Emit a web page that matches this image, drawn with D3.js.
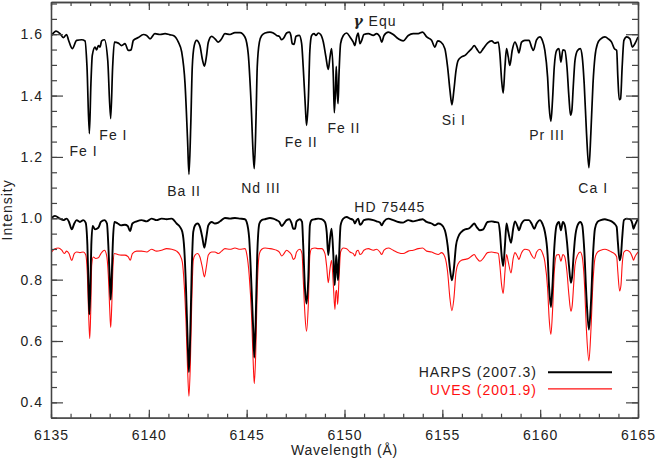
<!DOCTYPE html>
<html><head><meta charset="utf-8">
<script src="https://cdn.jsdelivr.net/npm/d3@7/dist/d3.min.js"></script>
<style>
html,body{margin:0;padding:0;background:#fff;}
text{font-family:"Liberation Sans",Arial,Helvetica,sans-serif;fill:#222;}
</style></head>
<body>
<svg id="chart" width="656" height="461"></svg>
<script>
// ---- data (wavelength Å, intensity) ----
const gammaEqu = [[6135.03,1.596],[6135.26,1.610],[6135.46,1.602],[6135.63,1.589],[6135.80,1.599],[6135.89,1.582],[6136.09,1.553],[6136.31,1.580],[6136.57,1.582],[6136.74,1.578],[6136.84,1.493],[6136.96,1.276],[6137.04,1.439],[6137.11,1.531],[6137.25,1.558],[6137.33,1.549],[6137.42,1.563],[6137.50,1.558],[6137.59,1.578],[6137.73,1.582],[6137.90,1.515],[6138.05,1.325],[6138.15,1.493],[6138.24,1.574],[6138.44,1.571],[6138.61,1.563],[6138.78,1.569],[6138.95,1.547],[6139.09,1.549],[6139.21,1.580],[6139.46,1.589],[6139.72,1.599],[6139.89,1.596],[6140.06,1.585],[6140.31,1.602],[6140.57,1.599],[6140.83,1.602],[6141.08,1.598],[6141.25,1.596],[6141.51,1.574],[6141.68,1.542],[6141.85,1.439],[6141.98,1.254],[6142.05,1.143],[6142.14,1.298],[6142.22,1.493],[6142.32,1.563],[6142.44,1.580],[6142.61,1.563],[6142.73,1.520],[6142.84,1.496],[6142.94,1.526],[6143.04,1.574],[6143.21,1.593],[6143.38,1.585],[6143.55,1.574],[6143.72,1.585],[6143.89,1.602],[6144.15,1.599],[6144.40,1.605],[6144.66,1.605],[6144.91,1.591],[6145.08,1.536],[6145.22,1.384],[6145.34,1.200],[6145.39,1.162],[6145.48,1.330],[6145.54,1.493],[6145.65,1.574],[6145.77,1.596],[6145.94,1.604],[6146.19,1.607],[6146.36,1.604],[6146.53,1.596],[6146.67,1.593],[6146.79,1.582],[6146.91,1.589],[6147.04,1.604],[6147.18,1.607],[6147.26,1.596],[6147.33,1.569],[6147.42,1.567],[6147.52,1.593],[6147.69,1.596],[6147.81,1.569],[6147.89,1.493],[6148.00,1.363],[6148.06,1.303],[6148.15,1.384],[6148.23,1.547],[6148.32,1.596],[6148.44,1.602],[6148.54,1.596],[6148.66,1.604],[6148.78,1.599],[6148.92,1.574],[6149.05,1.526],[6149.17,1.485],[6149.26,1.526],[6149.34,1.553],[6149.43,1.460],[6149.48,1.344],[6149.55,1.439],[6149.58,1.495],[6149.63,1.406],[6149.67,1.374],[6149.72,1.471],[6149.80,1.569],[6149.94,1.596],[6150.11,1.604],[6150.28,1.591],[6150.45,1.574],[6150.53,1.563],[6150.62,1.591],[6150.70,1.604],[6150.79,1.569],[6150.88,1.580],[6150.99,1.599],[6151.22,1.602],[6151.47,1.596],[6151.64,1.602],[6151.81,1.591],[6151.90,1.574],[6152.02,1.596],[6152.24,1.607],[6152.49,1.599],[6152.75,1.585],[6153.00,1.578],[6153.26,1.596],[6153.51,1.602],[6153.77,1.602],[6153.99,1.607],[6154.20,1.591],[6154.45,1.580],[6154.62,1.558],[6154.76,1.578],[6154.93,1.574],[6155.13,1.553],[6155.27,1.493],[6155.39,1.417],[6155.49,1.370],[6155.59,1.417],[6155.70,1.482],[6155.81,1.515],[6155.98,1.526],[6156.16,1.531],[6156.33,1.542],[6156.50,1.553],[6156.63,1.563],[6156.75,1.553],[6156.92,1.539],[6157.09,1.553],[6157.31,1.571],[6157.52,1.578],[6157.69,1.571],[6157.86,1.574],[6157.94,1.536],[6158.03,1.450],[6158.11,1.408],[6158.20,1.493],[6158.28,1.553],[6158.37,1.526],[6158.45,1.498],[6158.57,1.547],[6158.71,1.574],[6158.85,1.553],[6158.91,1.539],[6159.05,1.574],[6159.22,1.580],[6159.43,1.580],[6159.56,1.558],[6159.65,1.547],[6159.82,1.582],[6159.99,1.591],[6160.11,1.580],[6160.24,1.547],[6160.38,1.460],[6160.46,1.363],[6160.55,1.316],[6160.63,1.384],[6160.72,1.493],[6160.84,1.547],[6160.96,1.553],[6161.06,1.509],[6161.16,1.549],[6161.26,1.547],[6161.37,1.493],[6161.47,1.395],[6161.55,1.336],[6161.62,1.352],[6161.69,1.428],[6161.78,1.515],[6161.91,1.547],[6162.05,1.553],[6162.15,1.526],[6162.25,1.439],[6162.37,1.276],[6162.49,1.165],[6162.59,1.276],[6162.70,1.439],[6162.80,1.526],[6162.93,1.569],[6163.10,1.585],[6163.31,1.591],[6163.48,1.585],[6163.65,1.574],[6163.79,1.553],[6163.91,1.547],[6163.97,1.460],[6164.04,1.387],[6164.11,1.390],[6164.19,1.493],[6164.28,1.580],[6164.42,1.591],[6164.59,1.585],[6164.71,1.558],[6164.84,1.569],[6165.00,1.591]];

const harps = [[6135.03,1.001],[6135.20,1.008],[6135.46,0.999],[6135.63,0.994],[6135.80,0.999],[6135.92,0.988],[6136.06,0.964],[6136.19,0.983],[6136.31,0.994],[6136.48,0.988],[6136.65,0.994],[6136.77,0.986],[6136.86,0.912],[6136.92,0.771],[6136.96,0.687],[6137.01,0.771],[6137.06,0.912],[6137.13,0.975],[6137.25,0.964],[6137.42,0.969],[6137.55,0.988],[6137.73,0.994],[6137.86,0.983],[6137.93,0.912],[6138.00,0.804],[6138.05,0.735],[6138.10,0.804],[6138.17,0.934],[6138.24,0.988],[6138.41,0.983],[6138.58,0.977],[6138.78,0.979],[6138.92,0.975],[6139.04,0.958],[6139.16,0.983],[6139.38,0.990],[6139.63,0.994],[6139.89,0.990],[6140.14,0.999],[6140.40,0.994],[6140.65,0.999],[6140.91,0.997],[6141.17,0.999],[6141.42,0.983],[6141.59,0.972],[6141.71,0.956],[6141.81,0.901],[6141.90,0.771],[6141.98,0.608],[6142.05,0.499],[6142.12,0.630],[6142.19,0.825],[6142.27,0.956],[6142.36,0.977],[6142.49,0.983],[6142.61,0.972],[6142.73,0.939],[6142.84,0.904],[6142.94,0.939],[6143.04,0.977],[6143.21,0.988],[6143.38,0.983],[6143.55,0.986],[6143.72,0.994],[6143.89,1.001],[6144.15,0.999],[6144.40,1.001],[6144.66,0.999],[6144.91,0.997],[6145.00,0.988],[6145.13,0.934],[6145.25,0.771],[6145.34,0.630],[6145.39,0.546],[6145.46,0.662],[6145.54,0.880],[6145.65,0.983],[6145.77,0.994],[6145.94,0.997],[6146.19,1.001],[6146.36,0.999],[6146.53,0.994],[6146.67,0.988],[6146.79,0.975],[6146.91,0.983],[6147.04,0.994],[6147.18,0.997],[6147.30,0.983],[6147.38,0.966],[6147.47,0.966],[6147.55,0.990],[6147.72,0.997],[6147.83,0.988],[6147.89,0.912],[6147.98,0.771],[6148.06,0.722],[6148.15,0.804],[6148.23,0.977],[6148.32,0.994],[6148.49,0.997],[6148.66,0.999],[6148.83,0.997],[6149.00,0.988],[6149.09,0.956],[6149.17,0.880],[6149.26,0.934],[6149.34,0.966],[6149.43,0.880],[6149.50,0.782],[6149.55,0.847],[6149.58,0.880],[6149.63,0.825],[6149.67,0.798],[6149.72,0.869],[6149.80,0.977],[6149.94,0.999],[6150.11,1.004],[6150.28,0.999],[6150.45,0.994],[6150.53,0.983],[6150.62,0.994],[6150.70,0.999],[6150.79,0.979],[6150.88,0.983],[6150.99,0.994],[6151.22,0.997],[6151.47,0.994],[6151.64,0.990],[6151.81,0.986],[6151.90,0.977],[6152.02,0.990],[6152.24,0.999],[6152.49,0.994],[6152.75,0.988],[6153.00,0.986],[6153.26,0.994],[6153.51,0.990],[6153.77,0.994],[6153.99,0.997],[6154.20,0.988],[6154.45,0.983],[6154.62,0.977],[6154.79,0.983],[6154.96,0.979],[6155.13,0.961],[6155.27,0.912],[6155.39,0.836],[6155.49,0.798],[6155.59,0.836],[6155.70,0.912],[6155.81,0.939],[6155.98,0.956],[6156.16,0.964],[6156.33,0.966],[6156.50,0.975],[6156.63,0.983],[6156.75,0.972],[6156.92,0.961],[6157.09,0.964],[6157.31,0.988],[6157.52,0.990],[6157.69,0.988],[6157.86,0.986],[6157.94,0.956],[6158.03,0.880],[6158.11,0.844],[6158.20,0.912],[6158.28,0.983],[6158.37,0.956],[6158.51,0.920],[6158.62,0.966],[6158.71,0.990],[6158.85,0.972],[6158.91,0.961],[6159.05,0.983],[6159.22,0.994],[6159.43,0.994],[6159.56,0.983],[6159.70,0.966],[6159.82,0.983],[6159.99,0.994],[6160.11,0.983],[6160.24,0.956],[6160.38,0.880],[6160.46,0.771],[6160.55,0.711],[6160.63,0.782],[6160.72,0.901],[6160.84,0.977],[6160.96,0.988],[6161.06,0.961],[6161.16,0.988],[6161.26,0.977],[6161.37,0.923],[6161.47,0.847],[6161.57,0.790],[6161.64,0.814],[6161.71,0.880],[6161.78,0.934],[6161.91,0.977],[6162.05,0.988],[6162.15,0.977],[6162.25,0.901],[6162.37,0.738],[6162.49,0.637],[6162.59,0.717],[6162.70,0.880],[6162.80,0.966],[6162.93,0.988],[6163.10,0.994],[6163.31,0.997],[6163.48,0.994],[6163.65,0.990],[6163.79,0.983],[6163.91,0.972],[6163.97,0.923],[6164.06,0.863],[6164.13,0.880],[6164.19,0.934],[6164.28,0.994],[6164.42,0.999],[6164.59,0.997],[6164.71,0.983],[6164.77,0.966],[6164.84,0.977],[6165.00,0.999]];

const uves = [[6135.03,0.890],[6135.20,0.901],[6135.37,0.903],[6135.55,0.896],[6135.68,0.885],[6135.80,0.893],[6135.92,0.885],[6136.06,0.863],[6136.19,0.885],[6136.31,0.890],[6136.48,0.888],[6136.65,0.890],[6136.77,0.882],[6136.86,0.814],[6136.92,0.695],[6136.98,0.608],[6137.03,0.695],[6137.08,0.847],[6137.16,0.874],[6137.28,0.869],[6137.42,0.871],[6137.55,0.885],[6137.73,0.896],[6137.84,0.880],[6137.93,0.814],[6138.00,0.706],[6138.05,0.644],[6138.10,0.706],[6138.17,0.847],[6138.24,0.885],[6138.41,0.882],[6138.58,0.880],[6138.78,0.880],[6138.95,0.874],[6139.05,0.863],[6139.16,0.885],[6139.38,0.893],[6139.63,0.893],[6139.89,0.890],[6140.14,0.899],[6140.40,0.893],[6140.65,0.896],[6140.91,0.901],[6141.17,0.899],[6141.42,0.893],[6141.59,0.880],[6141.71,0.858],[6141.81,0.782],[6141.90,0.662],[6141.98,0.510],[6142.05,0.420],[6142.12,0.521],[6142.19,0.717],[6142.27,0.863],[6142.36,0.880],[6142.49,0.885],[6142.61,0.874],[6142.73,0.842],[6142.84,0.809],[6142.94,0.842],[6143.04,0.880],[6143.21,0.890],[6143.38,0.890],[6143.55,0.885],[6143.72,0.893],[6143.89,0.901],[6144.15,0.899],[6144.40,0.903],[6144.66,0.899],[6144.91,0.901],[6145.00,0.885],[6145.13,0.814],[6145.25,0.684],[6145.34,0.521],[6145.39,0.461],[6145.46,0.554],[6145.54,0.771],[6145.65,0.885],[6145.77,0.899],[6145.94,0.903],[6146.19,0.901],[6146.36,0.899],[6146.53,0.896],[6146.67,0.890],[6146.79,0.877],[6146.91,0.885],[6147.04,0.896],[6147.18,0.890],[6147.30,0.880],[6147.38,0.866],[6147.47,0.871],[6147.55,0.890],[6147.72,0.899],[6147.83,0.885],[6147.89,0.804],[6147.98,0.684],[6148.06,0.632],[6148.15,0.717],[6148.23,0.880],[6148.32,0.901],[6148.49,0.903],[6148.66,0.901],[6148.83,0.901],[6149.00,0.885],[6149.09,0.842],[6149.17,0.790],[6149.26,0.836],[6149.34,0.863],[6149.43,0.782],[6149.51,0.703],[6149.56,0.760],[6149.60,0.765],[6149.65,0.719],[6149.72,0.804],[6149.80,0.890],[6149.94,0.903],[6150.11,0.901],[6150.28,0.890],[6150.45,0.885],[6150.53,0.877],[6150.62,0.893],[6150.70,0.896],[6150.79,0.882],[6150.88,0.885],[6150.99,0.896],[6151.22,0.901],[6151.47,0.896],[6151.64,0.899],[6151.81,0.890],[6151.90,0.882],[6152.02,0.896],[6152.24,0.903],[6152.49,0.896],[6152.75,0.888],[6153.00,0.885],[6153.26,0.893],[6153.51,0.896],[6153.77,0.901],[6153.99,0.903],[6154.20,0.893],[6154.45,0.890],[6154.62,0.885],[6154.79,0.882],[6154.96,0.888],[6155.13,0.874],[6155.27,0.825],[6155.39,0.738],[6155.49,0.699],[6155.59,0.738],[6155.70,0.825],[6155.81,0.852],[6155.98,0.863],[6156.16,0.866],[6156.33,0.869],[6156.50,0.877],[6156.63,0.882],[6156.75,0.871],[6156.92,0.860],[6157.09,0.869],[6157.31,0.888],[6157.52,0.890],[6157.69,0.888],[6157.86,0.885],[6157.94,0.847],[6158.03,0.782],[6158.11,0.755],[6158.20,0.825],[6158.28,0.882],[6158.37,0.858],[6158.51,0.822],[6158.62,0.869],[6158.71,0.888],[6158.85,0.874],[6158.91,0.866],[6159.05,0.888],[6159.22,0.899],[6159.43,0.896],[6159.56,0.880],[6159.70,0.869],[6159.82,0.890],[6159.99,0.899],[6160.11,0.888],[6160.24,0.858],[6160.38,0.771],[6160.46,0.673],[6160.55,0.622],[6160.63,0.695],[6160.72,0.825],[6160.84,0.880],[6160.96,0.882],[6161.06,0.860],[6161.16,0.882],[6161.26,0.874],[6161.37,0.825],[6161.47,0.749],[6161.57,0.697],[6161.64,0.717],[6161.71,0.782],[6161.78,0.847],[6161.91,0.880],[6162.05,0.890],[6162.15,0.874],[6162.25,0.804],[6162.37,0.630],[6162.49,0.535],[6162.59,0.630],[6162.70,0.793],[6162.80,0.869],[6162.93,0.890],[6163.10,0.896],[6163.31,0.899],[6163.48,0.896],[6163.65,0.890],[6163.79,0.885],[6163.91,0.874],[6163.97,0.825],[6164.06,0.763],[6164.13,0.782],[6164.19,0.847],[6164.28,0.890],[6164.42,0.896],[6164.59,0.890],[6164.71,0.874],[6164.77,0.863],[6164.84,0.874],[6165.00,0.890]];

const xMajorTicks = [6135,6140,6145,6150,6155,6160,6165];
const yMajorTicks = [0.4,0.6,0.8,1.0,1.2,1.4,1.6];
const xDomain = [6135,6165];
const yDomain = [0.35,1.705];

// line identifications: label, wavelength, intensity (text baseline)
const lineLabels = [
  ["Fe I",6136.66,1.203],["Fe I",6138.19,1.255],["Ba II",6141.80,1.073],
  ["Nd III",6145.73,1.082],["Fe II",6147.79,1.233],["Fe II",6149.97,1.277],
  ["Si I",6155.59,1.304],["Pr III",6160.35,1.255],["Ca I",6162.71,1.081]
];
const starLabels = [["HD 75445",6152.32,1.022]];
const legendNames = ["HARPS (2007.3)","UVES (2001.9)"];
const legendColors = ["#000000","#ff1010"];

// ---- drawing ----
const svg = d3.select("#chart");
const L=51, R=638, T=2, B=417.7;
const x = d3.scaleLinear().domain(xDomain).range([L,R]);
const y = d3.scaleLinear().domain(yDomain).range([B,T]);
const axisColor = "#444";

const line = d3.line().x(d=>x(d[0])).y(d=>y(d[1])).curve(d3.curveMonotoneX);

svg.append("path").datum(uves).attr("d",line).attr("fill","none")
  .attr("stroke",legendColors[1]).attr("stroke-width",1.1);
svg.append("path").datum(harps).attr("d",line).attr("fill","none")
  .attr("stroke","#000").attr("stroke-width",1.9).attr("stroke-linejoin","round");
svg.append("path").datum(gammaEqu).attr("d",line).attr("fill","none")
  .attr("stroke","#000").attr("stroke-width",1.7).attr("stroke-linejoin","round");

// axes
const xMinor = d3.range(6135,6166,1);
const yMinor = d3.range(0,28).map(i=>+(0.35+i*0.05).toFixed(2)).filter(v=>v<=1.70);

function styleAxis(g){
  g.selectAll("path.domain").attr("stroke",axisColor).attr("stroke-width",1.3);
  g.selectAll(".tick line").attr("stroke",axisColor).attr("stroke-width",1.2);
  g.selectAll(".tick text").attr("fill","#222").style("font-size","14px")
    .style("letter-spacing","1px").style("font-family",'"Liberation Sans",Arial,sans-serif');
}
// bottom
svg.append("g").attr("transform",`translate(0,${B})`)
  .call(d3.axisBottom(x).tickValues(xMinor).tickSize(-4).tickFormat("").tickSizeOuter(0)).call(styleAxis);
svg.append("g").attr("transform",`translate(0,${B})`)
  .call(d3.axisBottom(x).tickValues(xMajorTicks).tickSize(-8).tickPadding(12).tickFormat(d3.format("d")).tickSizeOuter(0)).call(styleAxis);
// top
svg.append("g").attr("transform",`translate(0,${T})`)
  .call(d3.axisTop(x).tickValues(xMinor).tickSize(-4).tickFormat("").tickSizeOuter(0)).call(styleAxis);
svg.append("g").attr("transform",`translate(0,${T})`)
  .call(d3.axisTop(x).tickValues(xMajorTicks).tickSize(-8).tickFormat("").tickSizeOuter(0)).call(styleAxis);
// left
svg.append("g").attr("transform",`translate(${L},0)`)
  .call(d3.axisLeft(y).tickValues(yMinor).tickSize(-6).tickFormat("").tickSizeOuter(0)).call(styleAxis);
svg.append("g").attr("transform",`translate(${L},0)`)
  .call(d3.axisLeft(y).tickValues(yMajorTicks).tickSize(-12).tickPadding(8).tickFormat(d3.format(".1f")).tickSizeOuter(0)).call(styleAxis);
// right
svg.append("g").attr("transform",`translate(${R},0)`)
  .call(d3.axisRight(y).tickValues(yMinor).tickSize(-6).tickFormat("").tickSizeOuter(0)).call(styleAxis);
svg.append("g").attr("transform",`translate(${R},0)`)
  .call(d3.axisRight(y).tickValues(yMajorTicks).tickSize(-12).tickFormat("").tickSizeOuter(0)).call(styleAxis);

// axis titles
svg.append("text").attr("x",(L+R)/2).attr("y",455).attr("text-anchor","middle")
  .style("font-size","14px").style("letter-spacing","0.8px").text("Wavelength (Å)");
svg.append("text").attr("transform",`translate(12,${(T+B)/2}) rotate(-90)`).attr("text-anchor","middle")
  .style("font-size","14px").style("letter-spacing","1px").text("Intensity");

// labels
svg.selectAll("text.lbl").data(lineLabels.concat(starLabels)).join("text").attr("class","lbl")
  .attr("x",d=>x(d[1])).attr("y",d=>y(d[2])).attr("text-anchor","middle")
  .style("font-size","14px").style("letter-spacing","1px").text(d=>d[0]);

const ge = svg.append("text").attr("x",x(6151.56)).attr("y",y(1.626)).attr("text-anchor","middle")
  .style("font-size","14px").style("letter-spacing","1px");
ge.append("tspan").style("font-family","'DejaVu Serif',serif").style("font-style","italic").style("font-weight","bold").text("γ");
ge.append("tspan").text(" Equ");

// legend
const lg = svg.append("g");
legendNames.forEach((n,i)=>{
  lg.append("text").attr("x",537).attr("y",377+i*18).attr("text-anchor","end")
    .style("font-size","14px").style("letter-spacing","1px")
    .style("fill", i===0 ? "#222" : legendColors[1]).text(n);
  lg.append("line").attr("x1",548).attr("x2",612).attr("y1",372.3+i*16.5).attr("y2",372.3+i*16.5)
    .attr("stroke",legendColors[i]).attr("stroke-width", i===0?2:1.3);
});
</script>
</body></html>
